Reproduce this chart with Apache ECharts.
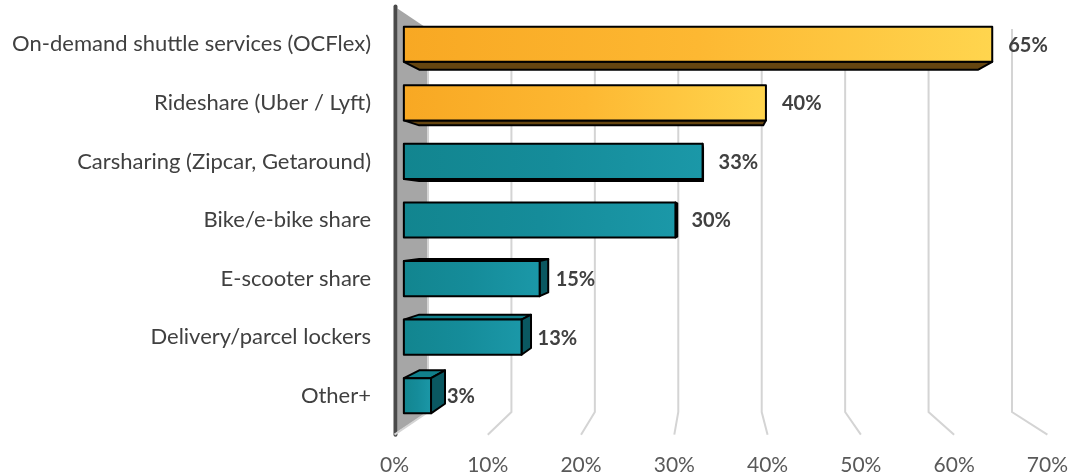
<!DOCTYPE html>
<html>
<head>
<meta charset="utf-8">
<script src="https://cdn.jsdelivr.net/npm/echarts@6/dist/echarts.min.js"></script>
<style>
html,body{margin:0;padding:0;background:#fff;}
#chart{width:1072px;height:476px;}
</style>
</head>
<body>
<div id="chart"></div>
<script>
// ---- data ----
const categories = [
  'On-demand shuttle services (OCFlex)',
  'Rideshare (Uber / Lyft)',
  'Carsharing (Zipcar, Getaround)',
  'Bike/e-bike share',
  'E-scooter share',
  'Delivery/parcel lockers',
  'Other+'
];
const values = [65, 40, 33, 30, 15, 13, 3];
const colorGroup = ['orange', 'orange', 'teal', 'teal', 'teal', 'teal', 'teal'];
const xTicks = [0, 10, 20, 30, 40, 50, 60, 70];
const xTickLabels = ['0%', '10%', '20%', '30%', '40%', '50%', '60%', '70%'];

// ---- perspective layout (style only) ----
const VP = [712, 220];         // vanishing point
const S_FLOOR = 1.118;         // front edge of floor / wall
const S_FRONT = 1.085;         // bar front face
const S_BACK = 1.031;          // bar back face
const WALL_TOP_PAD = 2, WALL_BOTTOM_PAD = 3;
function proj(x, y, s) { return [VP[0] + (x - VP[0]) * s, VP[1] + (y - VP[1]) * s]; }

const FONT = 'Lato, "Open Sans", sans-serif';
const palette = {
  orange: { front: ['#F8A823', '#FDB832', '#FFD54E'], bottom: '#654510', top: '#E79A18', right: '#B57A12' },
  teal:   { front: ['#12858F', '#158C9A', '#1B98A8'], bottom: '#0B5A64', top: '#11808C', right: '#0A5861' }
};

const chart = echarts.init(document.getElementById('chart'), null, { renderer: 'canvas' });

function renderFrame(params, api) {
  const v = api.value(0);
  const cs = params.coordSys;
  const top = cs.y - WALL_TOP_PAD, bottom = cs.y + cs.height + WALL_BOTTOM_PAD;
  const bx = api.coord([v, 0])[0];
  const children = [];
  const ft = proj(bx, top, S_FLOOR);
  const fb = proj(bx, bottom, S_FLOOR);
  if (v === xTicks[0]) {
    children.push({ type: 'polygon', shape: { points: [[bx, top], [bx, bottom], [fb[0] + 3, fb[1] - 3], [ft[0] + 3, ft[1] + 2]] },
      style: { fill: '#A6A6A6' } });
    children.push({ type: 'line', shape: { x1: ft[0] + 1, y1: ft[1], x2: fb[0] + 1, y2: fb[1] },
      style: { stroke: '#4A4A4A', lineWidth: 4, lineCap: 'round' } });
  }
  children.push({ type: 'polyline', shape: { points: [[bx, top], [bx, bottom], fb] },
    style: { stroke: '#D4D4D4', lineWidth: 2, fill: null } });
  children.push({ type: 'text', style: { x: fb[0], y: 465, text: xTickLabels[params.dataIndex],
    font: '21px ' + FONT, fill: '#595959', align: 'center', verticalAlign: 'middle' } });
  return { type: 'group', children: children };
}

function renderBar(params, api) {
  const v = api.value(0), idx = api.value(1);
  const p0 = api.coord([0, idx]);
  const p1 = api.coord([v, idx]);
  const band = api.size([0, 1])[1];
  const h = band * 0.6;
  const x0 = p0[0], x1 = p1[0], yt = p1[1] - h / 2, yb = p1[1] + h / 2;
  const F = { tl: proj(x0, yt, S_FRONT), tr: proj(x1, yt, S_FRONT), br: proj(x1, yb, S_FRONT), bl: proj(x0, yb, S_FRONT) };
  const B = { tl: proj(x0, yt, S_BACK), tr: proj(x1, yt, S_BACK), br: proj(x1, yb, S_BACK), bl: proj(x0, yb, S_BACK) };
  const pal = palette[colorGroup[params.dataIndex]];
  const edge = { stroke: '#000', lineWidth: 2, lineJoin: 'round' };
  const children = [];
  if (F.br[1] < VP[1]) {
    children.push({ type: 'polygon', shape: { points: [F.bl, F.br, B.br, B.bl] }, style: Object.assign({ fill: pal.bottom }, edge) });
  }
  if (F.tl[1] > VP[1]) {
    children.push({ type: 'polygon', shape: { points: [F.tl, F.tr, B.tr, B.tl] }, style: Object.assign({ fill: pal.top }, edge) });
  }
  if (F.tr[0] < VP[0]) {
    children.push({ type: 'polygon', shape: { points: [F.tr, F.br, B.br, B.tr] }, style: Object.assign({ fill: pal.right }, edge) });
  }
  children.push({ type: 'polygon', shape: { points: [F.tl, F.tr, F.br, F.bl] },
    style: Object.assign({ fill: new echarts.graphic.LinearGradient(0, 0, 1, 0, [
      { offset: 0, color: pal.front[0] }, { offset: 0.5, color: pal.front[1] }, { offset: 1, color: pal.front[2] }]) }, edge) });
  const cy = (F.tl[1] + F.bl[1]) / 2;
  children.push({ type: 'text', style: { x: F.tr[0] + 16, y: cy + 1, text: v + '%',
    font: 'bold 20px ' + FONT, fill: '#404040', align: 'left', verticalAlign: 'middle' } });
  children.push({ type: 'text', style: { x: 371, y: cy, text: categories[idx],
    font: '22px ' + FONT, fill: '#404040', align: 'right', verticalAlign: 'middle' } });
  return { type: 'group', children: children };
}

chart.setOption({
  animation: false,
  backgroundColor: '#fff',
  grid: { left: 428, right: 60, top: 31, bottom: 67 },
  xAxis: { type: 'value', min: 0, max: 70, interval: 10, show: false },
  yAxis: { type: 'category', data: categories, inverse: true, show: false },
  series: [
    { type: 'custom', name: 'frame', z: 1, renderItem: renderFrame, clip: false,
      data: xTicks.map(t => [t, 0]), encode: { x: 0, y: 1 } },
    { type: 'custom', name: 'bars', z: 2, renderItem: renderBar, clip: false,
      data: values.map((v, i) => [v, i]), encode: { x: 0, y: 1 } }
  ]
});
</script>
</body>
</html>
